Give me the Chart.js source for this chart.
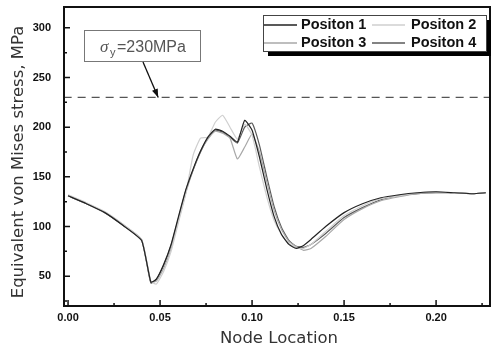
<!DOCTYPE html>
<html>
<head>
<meta charset="utf-8">
<script src="https://cdn.jsdelivr.net/npm/chart.js@4.4.1/dist/chart.umd.min.js"></script>
<style>
  html, body { margin: 0; padding: 0; background: #fff; }
  #wrap { width: 493px; height: 350px; }
</style>
</head>
<body>
<div id="wrap"><canvas id="stressChart" width="493" height="350"></canvas></div>
<script>
// node locations along the path
const nodeX = [0, 0.01, 0.02, 0.03, 0.04, 0.045, 0.048, 0.052, 0.056, 0.06, 0.064, 0.068, 0.072, 0.076, 0.08, 0.084, 0.088, 0.092, 0.096, 0.1, 0.104, 0.108, 0.112, 0.116, 0.12, 0.124, 0.128, 0.132, 0.14, 0.15, 0.16, 0.17, 0.18, 0.19, 0.2, 0.21, 0.22, 0.227];

const pos1 = [131, 123, 114, 101, 86, 44, 47, 62, 82, 110, 137, 158, 176, 190, 198, 196, 191, 185, 207, 197, 170, 138, 110, 92, 82, 78, 81, 87, 100, 114, 123, 129, 132, 134, 135, 134, 133, 134];
const pos2 = [132, 124, 115, 102, 87, 45, 42, 55, 75, 104, 133, 172, 189, 190, 205, 212, 200, 188, 203, 192, 160, 130, 106, 92, 83, 79, 78, 82, 95, 111, 121, 128, 131, 134, 135, 134, 133, 134];
const pos3 = [131, 123, 114, 102, 87, 44, 45, 58, 78, 106, 134, 157, 176, 188, 196, 194, 189, 168, 180, 193, 175, 145, 116, 97, 85, 80, 76, 78, 90, 107, 118, 126, 130, 133, 134, 134, 133, 134];
const pos4 = [131, 123, 114, 101, 86, 43, 47, 61, 81, 108, 136, 157, 175, 189, 197, 195, 190, 184, 200, 204, 182, 150, 120, 99, 86, 80, 79, 82, 93, 109, 119, 127, 131, 133, 134, 134, 133, 134];

const seriesNames = ['Positon 1', 'Positon 2', 'Positon 3', 'Positon 4'];
const seriesColors = ['#222222', '#cfcfcf', '#a8a8a8', '#5a5a5a'];
const yieldStress = 230;

const xTicks = [0, 0.05, 0.10, 0.15, 0.20];
const yTicks = [50, 100, 150, 200, 250, 300];

const xTitle = 'Node Location';
const yTitle = 'Equivalent von Mises stress, MPa';

const toPoints = ys => nodeX.map((x, i) => ({ x: x, y: ys[i] }));

const frameAndNotes = {
  id: 'frameAndNotes',
  afterDraw(chart) {
    const ctx = chart.ctx;
    const a = chart.chartArea;
    const xs = chart.scales.x;
    const ys = chart.scales.y;
    ctx.save();

    // frame
    ctx.strokeStyle = '#111';
    ctx.lineWidth = 2;
    ctx.strokeRect(a.left, a.top, a.right - a.left, a.bottom - a.top);

    // inward ticks
    ctx.lineWidth = 1.5;
    ctx.beginPath();
    for (let v = 0; v <= 0.225; v += 0.025) {
      const px = xs.getPixelForValue(v);
      const len = Math.abs(v / 0.05 - Math.round(v / 0.05)) < 1e-6 ? 6 : 3;
      ctx.moveTo(px, a.bottom);
      ctx.lineTo(px, a.bottom - len);
    }
    for (let v = 25; v <= 300; v += 25) {
      const py = ys.getPixelForValue(v);
      const len = v % 50 === 0 ? 6 : 3;
      ctx.moveTo(a.left, py);
      ctx.lineTo(a.left + len, py);
    }
    ctx.stroke();

    // axis titles
    ctx.fillStyle = '#333';
    ctx.font = '16.5px "DejaVu Sans", sans-serif';
    ctx.textAlign = 'center';
    ctx.textBaseline = 'middle';
    ctx.fillText(xTitle, 279, 339);
    ctx.save();
    ctx.translate(19, 162);
    ctx.rotate(-Math.PI / 2);
    ctx.fillText(yTitle, 0, 0);
    ctx.restore();
    ctx.textAlign = 'left';

    // yield stress label box and arrow
    ctx.fillStyle = '#fff';
    ctx.fillRect(84, 30, 116, 31);
    ctx.strokeStyle = '#777';
    ctx.lineWidth = 1;
    ctx.strokeRect(84.5, 30.5, 116, 31);
    ctx.fillStyle = '#555';
    ctx.textBaseline = 'alphabetic';
    ctx.font = 'italic 17px "Liberation Serif", serif';
    ctx.fillText('σ', 100, 52);
    ctx.font = '11px "Liberation Sans", Arial, sans-serif';
    ctx.fillText('y', 110, 56);
    ctx.font = '16px "Liberation Sans", Arial, sans-serif';
    ctx.fillText('=230MPa', 117, 52);

    const ax = xs.getPixelForValue(0.049);
    const ay = ys.getPixelForValue(yieldStress);
    ctx.strokeStyle = '#111';
    ctx.fillStyle = '#111';
    ctx.lineWidth = 1.3;
    ctx.beginPath();
    ctx.moveTo(143, 62);
    ctx.lineTo(ax, ay);
    ctx.stroke();
    const ang = Math.atan2(ay - 62, ax - 143);
    ctx.beginPath();
    ctx.moveTo(ax, ay);
    ctx.lineTo(ax - 9 * Math.cos(ang - 0.35), ay - 9 * Math.sin(ang - 0.35));
    ctx.lineTo(ax - 9 * Math.cos(ang + 0.35), ay - 9 * Math.sin(ang + 0.35));
    ctx.closePath();
    ctx.fill();

    // legend box with shadow
    const lx = 263, ly = 15, lw = 223, lh = 36;
    ctx.fillStyle = '#000';
    ctx.fillRect(lx + 5, ly + 5, lw, lh);
    ctx.fillStyle = '#fff';
    ctx.fillRect(lx, ly, lw, lh);
    ctx.strokeStyle = '#444';
    ctx.lineWidth = 1;
    ctx.strokeRect(lx + 0.5, ly + 0.5, lw, lh);
    ctx.font = 'bold 14.5px "Liberation Sans", Arial, sans-serif';
    ctx.textBaseline = 'middle';
    const cols = [[lx + 1, lx + 34, lx + 38], [lx + 109, lx + 142, lx + 148]];
    seriesNames.forEach((name, i) => {
      const c = cols[i % 2];
      const cy = ly + 10 + Math.floor(i / 2) * 18;
      ctx.strokeStyle = seriesColors[i];
      ctx.lineWidth = 1.3;
      ctx.beginPath();
      ctx.moveTo(c[0], cy);
      ctx.lineTo(c[1], cy);
      ctx.stroke();
      ctx.fillStyle = '#111';
      ctx.fillText(name, c[2], cy);
    });

    ctx.restore();
  }
};

const datasets = [pos1, pos2, pos3, pos4].map((ys, i) => ({
  label: seriesNames[i],
  data: toPoints(ys),
  borderColor: seriesColors[i],
  borderWidth: 1.2,
  pointRadius: 0,
  tension: 0.15,
  fill: false
}));
datasets.unshift({
  label: 'yield',
  data: [{ x: -0.01, y: yieldStress }, { x: 0.24, y: yieldStress }],
  borderColor: '#555',
  borderWidth: 1.4,
  borderDash: [8, 6],
  pointRadius: 0,
  fill: false
});

new Chart(document.getElementById('stressChart'), {
  type: 'line',
  data: { datasets: datasets },
  options: {
    responsive: false,
    animation: false,
    layout: { padding: { top: 7, right: 3, left: 0, bottom: 0 } },
    plugins: { legend: { display: false }, tooltip: { enabled: false } },
    scales: {
      x: {
        type: 'linear',
        min: -0.0022,
        max: 0.2293,
        afterBuildTicks: s => { s.ticks = xTicks.map(v => ({ value: v })); },
        afterFit: s => { s.height = 44; },
        grid: { display: false, drawTicks: false },
        border: { display: false },
        ticks: {
          color: '#111',
          padding: 5,
          maxRotation: 0,
          font: { family: '"Liberation Sans", Arial, sans-serif', size: 11, weight: 'bold' },
          callback: v => v.toFixed(2)
        }
      },
      y: {
        min: 20,
        max: 321,
        afterBuildTicks: s => { s.ticks = yTicks.map(v => ({ value: v })); },
        afterFit: s => { s.width = 64; },
        grid: { display: false, tickLength: 13 },
        border: { display: false },
        ticks: {
          color: '#111',
          padding: 0,
          font: { family: '"Liberation Sans", Arial, sans-serif', size: 11, weight: 'bold' }
        }
      }
    }
  },
  plugins: [frameAndNotes]
});
</script>
</body>
</html>
